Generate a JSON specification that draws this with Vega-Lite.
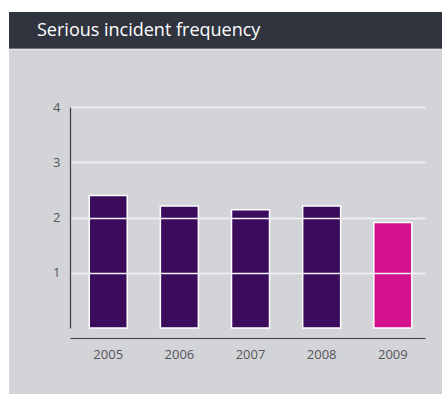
{
  "$schema": "https://vega.github.io/schema/vega-lite/v6.json",
  "background": "#d3d4d8",
  "padding": 0,
  "spacing": 0,
  "bounds": "flush",
  "config": {
    "view": {"stroke": null},
    "font": "Open Sans",
    "concat": {"spacing": 0}
  },
  "hconcat": [
    {
      "width": 9,
      "height": 394,
      "view": {"fill": "#ffffff", "stroke": null},
      "data": {"values": []},
      "mark": "rect",
      "encoding": {}
    },
    {
      "columns": 1,
      "spacing": 0,
      "bounds": "flush",
      "concat": [
        {
          "width": 433,
          "height": 12,
          "view": {"fill": "#ffffff", "stroke": null},
          "data": {"values": []},
          "mark": "rect",
          "encoding": {}
        },
        {
          "width": 433,
          "height": 36,
          "view": {"fill": "#30343f", "stroke": null},
          "title": {
            "text": "Serious incident frequency",
            "orient": "top",
            "anchor": "start",
            "offset": -42,
            "dx": 28,
            "baseline": "alphabetic",
            "color": "#ffffff",
            "font": "Open Sans",
            "fontSize": 18,
            "fontWeight": "normal"
          },
          "data": {"values": []},
          "mark": "rect",
          "encoding": {}
        },
        {
          "width": 433,
          "height": 1,
          "view": {"fill": "#6e707a", "stroke": null},
          "data": {"values": []},
          "mark": "rect",
          "encoding": {}
        },
        {
          "width": 433,
          "height": 1,
          "view": {"fill": "#e4e5e8", "stroke": null},
          "data": {"values": []},
          "mark": "rect",
          "encoding": {}
        },
        {
          "width": 433,
          "height": 57,
          "data": {"values": []},
          "mark": "rect",
          "encoding": {}
        },
        {
          "spacing": 0,
          "bounds": "flush",
          "hconcat": [
            {
              "width": 61,
              "height": 221,
              "data": {"values": []},
              "mark": "rect",
              "encoding": {}
            },
            {
              "width": 355,
              "height": 221,
              "data": {
                "values": [
                  {"year": "2005", "frequency": 2.40},
                  {"year": "2006", "frequency": 2.21},
                  {"year": "2007", "frequency": 2.14},
                  {"year": "2008", "frequency": 2.21},
                  {"year": "2009", "frequency": 1.91}
                ]
              },
              "mark": {"type": "bar", "stroke": "#ffffff", "strokeWidth": 1.5},
              "encoding": {
                "x": {
                  "field": "year",
                  "type": "ordinal",
                  "scale": {"paddingInner": 0.466, "paddingOuter": 0.228, "align": 0.593},
                  "axis": {
                    "title": null,
                    "labelAngle": 0,
                    "offset": 10,
                    "ticks": false,
                    "tickSize": 0,
                    "labelPadding": 10,
                    "domainColor": "#3a3b42",
                    "domainWidth": 1.2,
                    "labelColor": "#555559",
                    "labelFont": "Open Sans",
                    "labelFontSize": 13,
                    "grid": false
                  }
                },
                "y": {
                  "field": "frequency",
                  "type": "quantitative",
                  "scale": {"domain": [0, 4], "nice": false},
                  "axis": {
                    "title": null,
                    "values": [1, 2, 3, 4],
                    "ticks": false,
                    "tickSize": 0,
                    "labelPadding": 10,
                    "grid": true,
                    "gridColor": "#f3f3f5",
                    "gridWidth": 1.5,
                    "zindex": 1,
                    "domainColor": "#3a3b42",
                    "domainWidth": 1.2,
                    "labelColor": "#555559",
                    "labelFont": "Open Sans",
                    "labelFontSize": 13
                  }
                },
                "color": {
                  "field": "year",
                  "type": "nominal",
                  "scale": {
                    "domain": ["2005", "2006", "2007", "2008", "2009"],
                    "range": ["#3b0c5c", "#3b0c5c", "#3b0c5c", "#3b0c5c", "#d3118c"]
                  },
                  "legend": null
                }
              }
            }
          ]
        }
      ]
    }
  ]
}
